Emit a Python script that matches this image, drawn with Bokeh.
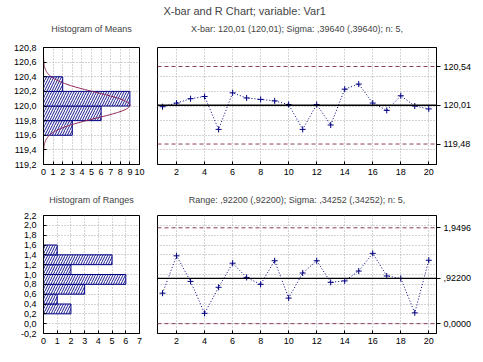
import numpy as np
from bokeh.plotting import figure
from bokeh.layouts import row, column
from bokeh.models import FixedTicker, Span, Title
from bokeh.embed import file_html
from bokeh.resources import INLINE

# ---------------- data ----------------
samples = list(range(1, 21))
xbar_values = [119.99, 120.04, 120.10, 120.13, 119.68, 120.18, 120.11, 120.09, 120.07, 120.02,
               119.68, 120.02, 119.74, 120.23, 120.30, 120.04, 119.94, 120.14, 120.00, 119.96]
range_values = [0.62, 1.38, 0.86, 0.21, 0.74, 1.23, 0.94, 0.80, 1.28, 0.52,
                1.03, 1.28, 0.84, 0.87, 1.07, 1.43, 0.97, 0.92, 0.22, 1.29]

xbar_center, xbar_ucl, xbar_lcl = 120.01, 120.54, 119.48
xbar_sigma = 0.39640
n_per_sample = 5
r_center, r_ucl, r_lcl = 0.922, 1.9496, 0.0

bin_width = 0.2
means_bin_mid = [119.7, 119.9, 120.1, 120.3]
means_counts = [3, 6, 9, 2]
ranges_bin_mid = [0.3, 0.5, 0.7, 0.9, 1.1, 1.3, 1.5]
ranges_counts = [2, 1, 3, 6, 2, 5, 1]

means_y_ticks = [119.2, 119.4, 119.6, 119.8, 120.0, 120.2, 120.4, 120.6, 120.8]
means_y_labels = ["119,2", "119,4", "119,6", "119,8", "120,0", "120,2", "120,4", "120,6", "120,8"]
ranges_y_ticks = [-0.2, 0.0, 0.2, 0.4, 0.6, 0.8, 1.0, 1.2, 1.4, 1.6, 1.8, 2.0, 2.2]
ranges_y_labels = ["-0,2", "0,0", "0,2", "0,4", "0,6", "0,8", "1,0", "1,2", "1,4", "1,6", "1,8", "2,0", "2,2"]
means_x_ticks = [0, 1, 2, 3, 4, 5, 6, 7, 8, 9, 10]
ranges_x_ticks = [0, 1, 2, 3, 4, 5, 6, 7]
sample_ticks = [2, 4, 6, 8, 10, 12, 14, 16, 18, 20]
xbar_limit_ticks = [xbar_lcl, xbar_center, xbar_ucl]
xbar_limit_labels = ["119,48", "120,01", "120,54"]
r_limit_ticks = [r_lcl, r_center, r_ucl]
r_limit_labels = ["0,0000", ",92200", "1,9496"]

main_title = "X-bar and R Chart; variable:  Var1"
means_hist_title = "Histogram of Means"
ranges_hist_title = "Histogram of Ranges"
xbar_title = "X-bar: 120,01 (120,01); Sigma: ,39640 (,39640); n: 5,"
range_title = "Range: ,92200 (,92200); Sigma: ,34252 (,34252); n: 5,"

# ---------------- style ----------------
FONT = "Liberation Sans"
NAVY = "#000080"
MAROON = "#8B2252"
LIMIT = "#8B3A62"
GRID = "#a8a8a8"


def style(p):
    p.outline_line_color = "black"
    p.outline_line_width = 1
    p.background_fill_color = "white"
    p.border_fill_color = "white"
    for ax in p.axis:
        ax.major_label_text_font = FONT
        ax.major_label_text_font_size = "9px"
        ax.major_label_text_color = "black"
        ax.axis_line_color = "black"
        ax.major_tick_line_color = "black"
        ax.major_tick_in = 3
        ax.major_tick_out = 0
        ax.minor_tick_line_color = None
        ax.major_label_standoff = 4
    p.grid.grid_line_color = GRID
    p.grid.grid_line_dash = "1 2"


def set_title(t, text, size, standoff, align="center", offset=0):
    t.text = text
    t.text_font = FONT
    t.text_font_size = size
    t.text_font_style = "normal"
    t.align = align
    t.offset = offset
    t.standoff = standoff


def hist_fig(y_range, x_ticks, y_ticks, y_labels, mids, counts, title_text, height, top, bottom, standoff):
    p = figure(width=148, height=height, x_range=(x_ticks[0], x_ticks[-1]), y_range=y_range,
               output_backend="svg", toolbar_location=None,
               min_border_left=43, min_border_right=9, min_border_top=top, min_border_bottom=bottom)
    p.hbar(y=mids, height=bin_width, left=0, right=counts, fill_color="white",
           line_color=NAVY, line_width=1, hatch_pattern="/", hatch_color=NAVY,
           hatch_scale=5, hatch_weight=0.9)
    p.xaxis.ticker = FixedTicker(ticks=x_ticks)
    p.yaxis.ticker = FixedTicker(ticks=y_ticks)
    p.yaxis.major_label_overrides = {t: l for t, l in zip(y_ticks, y_labels)}
    style(p)
    set_title(p.title, title_text, "9px", standoff)
    p.yaxis.major_label_standoff = 7
    return p


def chart_fig(values, y_range, grid_ticks, lim_ticks, lim_labels, height, top, bottom):
    p = figure(width=334, height=height, x_range=(0.64, 20.55), y_range=y_range,
               output_backend="svg", toolbar_location=None, y_axis_location="right",
               min_border_left=9, min_border_right=46, min_border_top=top, min_border_bottom=bottom)
    p.xaxis.ticker = FixedTicker(ticks=sample_ticks)
    p.yaxis.ticker = FixedTicker(ticks=lim_ticks)
    p.yaxis.major_label_overrides = {t: l for t, l in zip(lim_ticks, lim_labels)}
    style(p)
    p.yaxis.major_tick_in = 0
    p.yaxis.major_tick_out = 4
    p.yaxis.major_label_standoff = 3
    p.ygrid.ticker = FixedTicker(ticks=grid_ticks)
    p.add_layout(Span(location=lim_ticks[2], dimension="width", line_color=LIMIT,
                      line_dash="4 3", line_width=1))
    p.add_layout(Span(location=lim_ticks[0], dimension="width", line_color=LIMIT,
                      line_dash="4 3", line_width=1))
    p.add_layout(Span(location=lim_ticks[1], dimension="width", line_color="black",
                      line_width=1.3))
    p.line(samples, values, line_color=NAVY, line_dash="1 2", line_width=1)
    p.scatter(samples, values, marker="cross", size=6, line_color=NAVY, line_width=1)
    return p


TOP_H = 181
BOT_H = 180

# top row
hA = hist_fig((119.2, 120.8), means_x_ticks, means_y_ticks, means_y_labels,
              means_bin_mid, means_counts, means_hist_title, TOP_H, 47, 17, 27)
sigma_mean = xbar_sigma / np.sqrt(n_per_sample)
yy = np.linspace(119.2, 120.8, 300)
curve = len(samples) * bin_width * np.exp(-0.5 * ((yy - xbar_center) / sigma_mean) ** 2) / (sigma_mean * np.sqrt(2 * np.pi))
hA.line(curve, yy, line_color=MAROON, line_width=1)

cB = chart_fig(xbar_values, (119.2, 120.8), means_y_ticks, xbar_limit_ticks, xbar_limit_labels,
               TOP_H, 47, 17)
set_title(cB.title, main_title, "11px", -17, align="left", offset=6)
subB = Title()
set_title(subB, xbar_title, "9px", 27)
cB.add_layout(subB, "above")

# bottom row
hC = hist_fig((-0.2, 2.2), ranges_x_ticks, ranges_y_ticks, ranges_y_labels,
              ranges_bin_mid, ranges_counts, ranges_hist_title, BOT_H, 34, 28, 22)
cD = chart_fig(range_values, (-0.2, 2.2), ranges_y_ticks, r_limit_ticks, r_limit_labels,
               BOT_H, 34, 28)
set_title(cD.title, range_title, "9px", 22)

layout = column(row(hA, cB), row(hC, cD))
open("out.html", "w").write(file_html(layout, INLINE))
